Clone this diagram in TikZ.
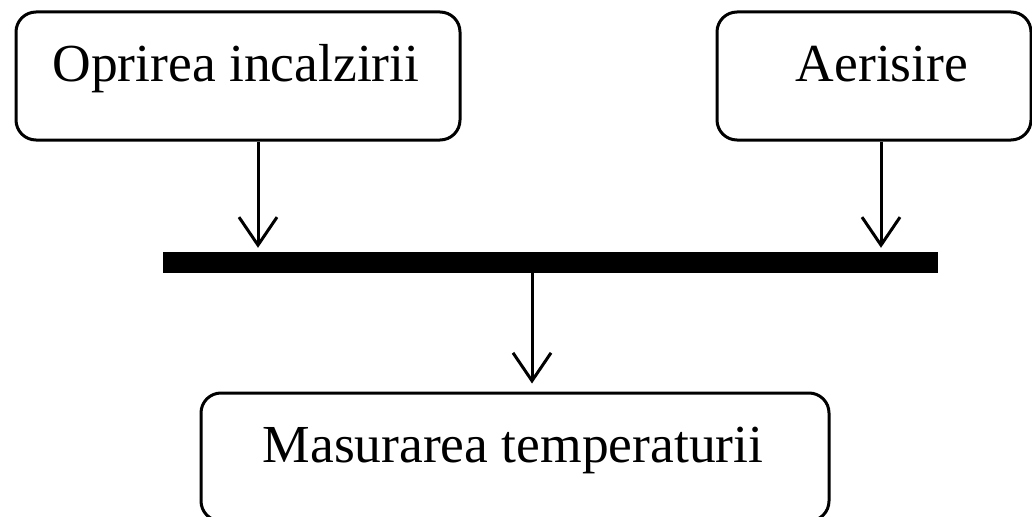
\documentclass[tikz,border=0pt]{standalone}
\usepackage{fontspec}
\setmainfont{Liberation Serif}
\usetikzlibrary{arrows.meta}
\begin{document}
\begin{tikzpicture}[x=1pt,y=-1pt,
  box/.style={draw, line width=3pt, rounded corners=20pt, inner sep=0pt,
    minimum width=#1, minimum height=128pt},
  lbl/.style={inner sep=0pt, anchor=base, font=\fontsize{53.5}{60}\selectfont},
  arr/.style={line width=3pt, -{Straight Barb[length=28pt,width=38pt]}}]
\useasboundingbox (0,0) rectangle (1032,516);
\clip (0,0) rectangle (1032,516);
% boxes
\node[box=444pt] (b1) at (238,76) {};
\node[box=314pt] (b2) at (874,76) {};
\node[box=628pt] (b3) at (515,457) {};
% labels
\node[lbl] (t1) at (236,82) {Oprirea incalzirii};
\node[lbl] (t2) at (882,82) {Aerisire};
\node[lbl] (t3) at (513,462) {Masurarea temperaturii};
% joining bar
\node[fill=black, inner sep=0pt, minimum width=775pt, minimum height=21pt] (bar) at (550.5,262.5) {};
% arrow columns
\coordinate (xl) at (258,0);
\coordinate (xr) at (881,0);
\coordinate (xm) at (532,0);
\draw[arr, shorten >=4pt] (b1.south -| xl) -- (bar.north -| xl);
\draw[arr, shorten >=4pt] (b2.south -| xr) -- (bar.north -| xr);
\draw[arr, shorten >=8pt] (bar.south -| xm) -- (b3.north -| xm);
\end{tikzpicture}
\end{document}
